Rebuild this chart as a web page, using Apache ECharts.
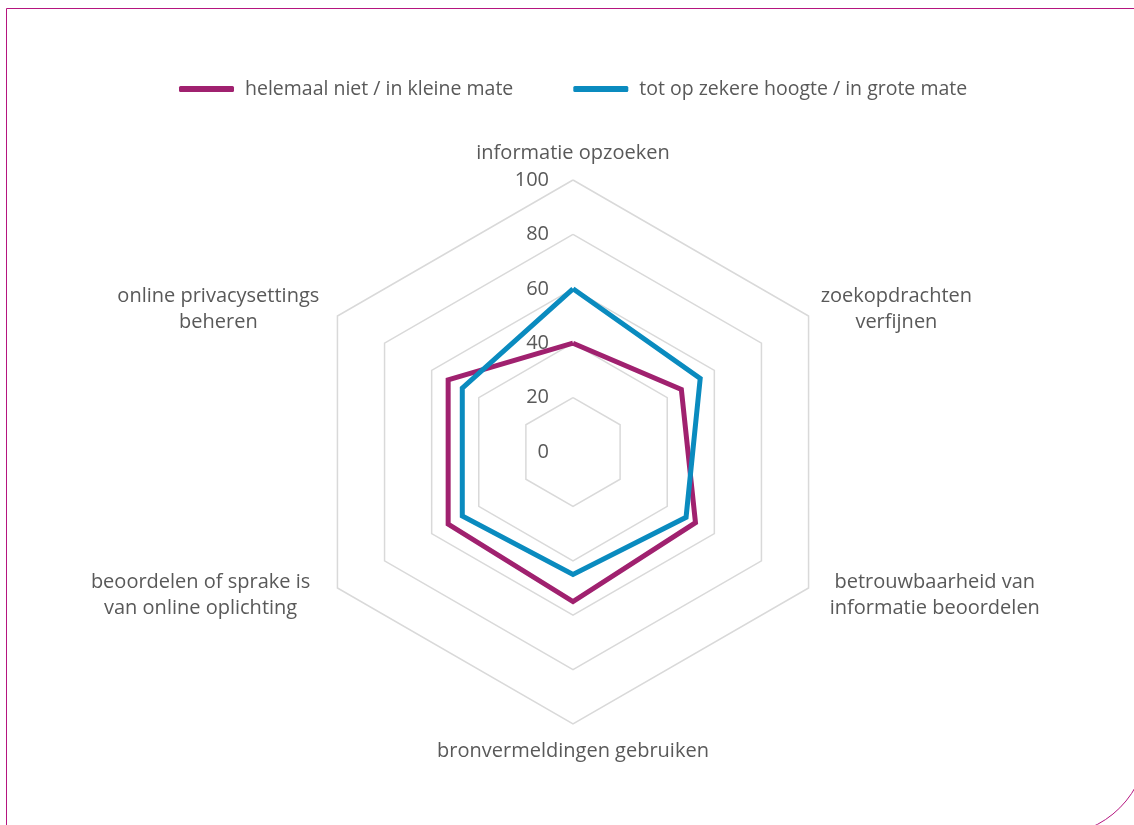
<!DOCTYPE html>
<html>
<head>
<meta charset="utf-8">
<script src="https://cdn.jsdelivr.net/npm/echarts@6/dist/echarts.min.js"></script>
<style>
  html, body { margin: 0; padding: 0; width: 1134px; height: 825px; overflow: hidden; background: #fff; }
  #frame {
    position: absolute; left: 6px; top: 8px; width: 1142px; height: 828px;
    border: 1.5px solid #b5157f; border-radius: 0 0 95px 0; box-sizing: border-box;
  }
  #chart { position: absolute; left: 0; top: 0; width: 1134px; height: 825px; }
</style>
</head>
<body>
<div id="frame"></div>
<div id="chart"></div>
<script>
  // categories (radar axes, clockwise from top)
  const categories = [
    "informatie opzoeken",
    "zoekopdrachten\nverfijnen",
    "betrouwbaarheid van\ninformatie beoordelen",
    "bronvermeldingen gebruiken",
    "beoordelen of sprake is\nvan online oplichting",
    "online privacysettings\nbeheren"
  ];
  const seriesNames = ["helemaal niet / in kleine mate", "tot op zekere hoogte / in grote mate"];
  const lowValues = [40, 46, 52, 55, 53, 53];
  const highValues = [60, 54, 48, 45, 47, 47];
  const axisMax = 100;
  const tickStep = 20;

  const textColor = "#595959";
  const font = "'Open Sans', 'Noto Sans', sans-serif";

  const chart = echarts.init(document.getElementById("chart"));

  // ECharts walks radar axes counter-clockwise, so reverse the order after the first one
  const order = [0, 5, 4, 3, 2, 1];
  // extra horizontal offset for some name labels (rich style per category)
  const nameStyle = ["c", "c", "lr", "c", "ll", "ul"];

  const nameText = { align: "center", color: textColor, fontSize: 20, fontFamily: font, lineHeight: 26 };

  const option = {
    animation: false,
    color: ["#a0216f", "#0a8bbf"],
    legend: {
      top: 74,
      left: 174,
      itemWidth: 55,
      itemHeight: 6,
      itemGap: 60,
      icon: "roundRect",
      textStyle: { color: textColor, fontSize: 19.5, fontFamily: font, padding: [0, 0, 0, 6] },
      data: seriesNames
    },
    radar: {
      center: [573, 452],
      radius: 272,
      startAngle: 90,
      shape: "polygon",
      splitNumber: axisMax / tickStep,
      nameGap: 14,
      axisName: {
        color: textColor,
        fontSize: 20,
        fontFamily: font,
        lineHeight: 26,
        // center each line inside its label block
        formatter: name => {
          const st = nameStyle[categories.indexOf(name)];
          return name.split("\n").map(s => "{" + st + "|" + s + "}").join("\n");
        },
        rich: {
          c: nameText,
          lr: Object.assign({}, nameText, { padding: [0, 0, 0, 9] }),
          ll: Object.assign({}, nameText, { padding: [0, 15, 0, 0] }),
          ul: Object.assign({}, nameText, { padding: [0, 6, 0, 0] })
        }
      },
      axisLine: { show: false },
      axisTick: { show: false },
      axisLabel: { show: false },
      splitArea: { show: false },
      splitLine: { lineStyle: { color: "#d9d9d9", width: 1.5 } },
      indicator: order.map((i, k) => ({
        name: categories[i],
        min: 0,
        max: axisMax,
        axisLabel: k === 0
          ? { show: true, color: textColor, fontSize: 20, fontFamily: font, margin: 24 }
          : { show: false }
      }))
    },
    series: [{
      type: "radar",
      symbol: "none",
      lineStyle: { width: 5, join: "miter" },
      data: [
        { name: seriesNames[0], value: order.map(i => lowValues[i]) },
        { name: seriesNames[1], value: order.map(i => highValues[i]) }
      ]
    }]
  };

  chart.setOption(option);
</script>
</body>
</html>
